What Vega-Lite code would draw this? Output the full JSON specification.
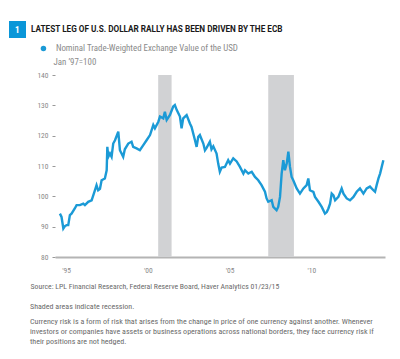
{
  "$schema": "https://vega.github.io/schema/vega-lite/v6.json",
  "width": 330,
  "height": 182,
  "autosize": {"type": "none"},
  "padding": {"left": 55, "top": 75, "right": 15, "bottom": 102},
  "background": "white",
  "config": {
    "view": {"stroke": null},
    "font": "Roboto Condensed, Liberation Sans Narrow, DejaVu Sans Condensed, Roboto"
  },
  "title": {
    "text": "Shaded areas indicate recession.",
    "subtitle": [
      "Currency risk is a form of risk that arises from the change in price of one currency against another. Whenever",
      "investors or companies have assets or business operations across national borders, they face currency risk if",
      "their positions are not hedged."
    ],
    "orient": "bottom",
    "anchor": "start",
    "frame": "group",
    "dx": -25,
    "offset": 13,
    "fontSize": 8,
    "fontWeight": "normal",
    "color": "#6a6a6a",
    "subtitleFontSize": 8,
    "subtitleColor": "#6a6a6a",
    "subtitleLineHeight": 10,
    "subtitlePadding": 7
  },
  "layer": [
    {
      "data": {"values": [
        {"start": 2001.18, "end": 2002.0},
        {"start": 2007.91, "end": 2009.48}
      ]},
      "mark": {"type": "rect", "color": "#d1d2d4"},
      "encoding": {
        "x": {"field": "start", "type": "quantitative"},
        "x2": {"field": "end"}
      }
    },
    {
      "data": {"values": [{"badge": "1"}]},
      "mark": {"type": "point", "opacity": 0, "filled": true, "color": "#0a96d8", "strokeWidth": 0},
      "encoding": {
        "shape": {
          "field": "badge",
          "type": "nominal",
          "scale": {"range": ["square"]},
          "legend": {
            "orient": "none",
            "legendX": -46,
            "legendY": -54,
            "padding": 0,
            "symbolSize": 289,
            "symbolFillColor": "#0a96d8",
            "symbolStrokeWidth": 0,
            "symbolOpacity": 1,
            "labelColor": "white",
            "labelFontWeight": "bold",
            "labelFontSize": 9,
            "labelOffset": -11,
            "title": "LATEST LEG OF U.S. DOLLAR RALLY HAS BEEN DRIVEN BY THE ECB",
            "titleOrient": "right",
            "titleAngle": 0,
            "titlePadding": 5,
            "titleLimit": 400,
            "titleFont": "Roboto",
            "titleFontSize": 8.2,
            "titleFontWeight": "bold",
            "titleColor": "#1a1a1a",
            "titleBaseline": "middle",
            "titleAnchor": "middle",
            "encode": {
              "symbols": {"update": {
                "opacity": {"value": 1},
                "fill": {"value": "#0a96d8"},
                "fillOpacity": {"value": 1},
                "strokeWidth": {"value": 0}
              }}
            }
          }
        }
      }
    },
    {
      "data": {"values": [
        {"t": 1995.17, "v": 94.3}, {"t": 1995.27, "v": 93.2}, {"t": 1995.38, "v": 89.4}, {"t": 1995.48, "v": 90.2},
        {"t": 1995.58, "v": 90.5}, {"t": 1995.68, "v": 90.5}, {"t": 1995.78, "v": 93.8}, {"t": 1995.88, "v": 94.3},
        {"t": 1996.08, "v": 96.0}, {"t": 1996.19, "v": 97.1}, {"t": 1996.39, "v": 97.1}, {"t": 1996.6, "v": 97.6},
        {"t": 1996.7, "v": 97.1}, {"t": 1996.9, "v": 98.2}, {"t": 1997.11, "v": 98.7}, {"t": 1997.31, "v": 102.0},
        {"t": 1997.41, "v": 103.7}, {"t": 1997.51, "v": 102.0}, {"t": 1997.62, "v": 102.5}, {"t": 1997.72, "v": 105.3},
        {"t": 1997.92, "v": 105.9}, {"t": 1998.03, "v": 108.6}, {"t": 1998.07, "v": 116.3}, {"t": 1998.13, "v": 113.0},
        {"t": 1998.23, "v": 114.1}, {"t": 1998.33, "v": 113.0}, {"t": 1998.43, "v": 117.4}, {"t": 1998.54, "v": 118.5},
        {"t": 1998.74, "v": 121.3}, {"t": 1998.84, "v": 115.2}, {"t": 1998.94, "v": 114.1}, {"t": 1999.04, "v": 113.0},
        {"t": 1999.14, "v": 115.5}, {"t": 1999.35, "v": 117.4}, {"t": 1999.55, "v": 118.0}, {"t": 1999.65, "v": 116.3},
        {"t": 1999.86, "v": 115.8}, {"t": 2000.06, "v": 115.2}, {"t": 2000.27, "v": 116.9}, {"t": 2000.47, "v": 118.5},
        {"t": 2000.68, "v": 120.2}, {"t": 2000.88, "v": 123.5}, {"t": 2000.98, "v": 122.4}, {"t": 2001.19, "v": 124.6},
        {"t": 2001.29, "v": 126.3}, {"t": 2001.49, "v": 125.7}, {"t": 2001.59, "v": 127.9}, {"t": 2001.7, "v": 125.2},
        {"t": 2001.9, "v": 126.8}, {"t": 2002.1, "v": 129.6}, {"t": 2002.2, "v": 130.1}, {"t": 2002.31, "v": 128.5},
        {"t": 2002.51, "v": 126.3}, {"t": 2002.61, "v": 122.4}, {"t": 2002.71, "v": 125.7}, {"t": 2002.92, "v": 126.8},
        {"t": 2003.12, "v": 124.0}, {"t": 2003.22, "v": 122.9}, {"t": 2003.43, "v": 118.5}, {"t": 2003.53, "v": 116.3},
        {"t": 2003.63, "v": 119.6}, {"t": 2003.73, "v": 120.2}, {"t": 2003.94, "v": 117.4}, {"t": 2004.04, "v": 115.2},
        {"t": 2004.14, "v": 116.0}, {"t": 2004.34, "v": 118.0}, {"t": 2004.44, "v": 115.5}, {"t": 2004.55, "v": 116.5},
        {"t": 2004.75, "v": 114.1}, {"t": 2004.85, "v": 110.8}, {"t": 2004.95, "v": 108.1}, {"t": 2005.06, "v": 109.5},
        {"t": 2005.26, "v": 109.7}, {"t": 2005.46, "v": 111.9}, {"t": 2005.57, "v": 110.8}, {"t": 2005.77, "v": 112.5},
        {"t": 2005.98, "v": 111.5}, {"t": 2006.18, "v": 109.7}, {"t": 2006.39, "v": 107.5}, {"t": 2006.49, "v": 108.6},
        {"t": 2006.69, "v": 107.5}, {"t": 2006.9, "v": 108.1}, {"t": 2007.1, "v": 106.4}, {"t": 2007.3, "v": 105.3},
        {"t": 2007.5, "v": 103.7}, {"t": 2007.71, "v": 101.5}, {"t": 2007.81, "v": 99.3}, {"t": 2007.91, "v": 98.2},
        {"t": 2008.12, "v": 98.7}, {"t": 2008.22, "v": 96.5}, {"t": 2008.42, "v": 95.4}, {"t": 2008.52, "v": 96.5},
        {"t": 2008.63, "v": 99.8}, {"t": 2008.73, "v": 107.5}, {"t": 2008.83, "v": 111.9}, {"t": 2008.93, "v": 108.6},
        {"t": 2009.04, "v": 110.8}, {"t": 2009.14, "v": 114.7}, {"t": 2009.24, "v": 109.7}, {"t": 2009.34, "v": 106.4},
        {"t": 2009.44, "v": 105.3}, {"t": 2009.65, "v": 102.6}, {"t": 2009.85, "v": 100.9}, {"t": 2010.06, "v": 102.6},
        {"t": 2010.26, "v": 103.7}, {"t": 2010.36, "v": 105.9}, {"t": 2010.46, "v": 102.0}, {"t": 2010.67, "v": 101.5},
        {"t": 2010.77, "v": 99.8}, {"t": 2010.98, "v": 98.2}, {"t": 2011.18, "v": 96.5}, {"t": 2011.38, "v": 94.3},
        {"t": 2011.49, "v": 94.8}, {"t": 2011.59, "v": 96.0}, {"t": 2011.69, "v": 97.6}, {"t": 2011.79, "v": 100.9},
        {"t": 2011.9, "v": 100.3}, {"t": 2012.0, "v": 98.7}, {"t": 2012.2, "v": 99.8}, {"t": 2012.4, "v": 102.6},
        {"t": 2012.51, "v": 100.9}, {"t": 2012.71, "v": 99.3}, {"t": 2012.91, "v": 98.7}, {"t": 2013.12, "v": 99.8},
        {"t": 2013.32, "v": 101.5}, {"t": 2013.52, "v": 102.6}, {"t": 2013.73, "v": 100.9}, {"t": 2013.93, "v": 102.6},
        {"t": 2014.13, "v": 103.2}, {"t": 2014.34, "v": 102.0}, {"t": 2014.44, "v": 101.5}, {"t": 2014.54, "v": 103.7},
        {"t": 2014.65, "v": 105.9}, {"t": 2014.75, "v": 107.5}, {"t": 2014.85, "v": 109.7}, {"t": 2014.95, "v": 111.9}
      ]},
      "transform": [{"calculate": "'Nominal Trade-Weighted Exchange Value of the USD'", "as": "series"}],
      "mark": {"type": "line", "strokeWidth": 2.4},
      "encoding": {
        "x": {
          "field": "t",
          "type": "quantitative",
          "scale": {"domain": [1994.87, 2015.05], "nice": false, "zero": false},
          "axis": {
            "values": [1995, 2000, 2005, 2010],
            "labelExpr": "'\\'' + substring(toString(datum.value), 2, 4)",
            "grid": false,
            "ticks": false,
            "domainColor": "#b4b4b4",
            "domainWidth": 2,
            "labelColor": "#888888",
            "labelFontSize": 7.5,
            "labelPadding": 9,
            "labelOffset": 9,
            "title": "Source: LPL Financial Research, Federal Reserve Board, Haver Analytics 01/23/15",
            "titleX": -25,
            "titleY": 29,
            "titleAlign": "left",
            "titleBaseline": "middle",
            "titleAnchor": null,
            "titleFontSize": 7.75,
            "titleFontWeight": "normal",
            "titleColor": "#6a6a6a"
          }
        },
        "y": {
          "field": "v",
          "type": "quantitative",
          "scale": {"domain": [80, 140], "nice": false, "zero": false},
          "axis": {
            "values": [80, 90, 100, 110, 120, 130, 140],
            "grid": false,
            "domain": false,
            "tickSize": 3,
            "tickColor": "#999999",
            "labelColor": "#888888",
            "labelFontSize": 7.5,
            "labelPadding": 4,
            "title": "Jan \u201997=100",
            "titleAngle": 0,
            "titleX": -2,
            "titleY": -14,
            "titleAlign": "left",
            "titleBaseline": "middle",
            "titleFontSize": 8.9,
            "titleFontWeight": "normal",
            "titleColor": "#8a8a8a"
          }
        },
        "color": {
          "field": "series",
          "type": "nominal",
          "scale": {"range": ["#1b9ad6"]},
          "legend": {
            "orient": "none",
            "legendX": -16,
            "legendY": -31,
            "padding": 0,
            "title": null,
            "symbolType": "circle",
            "symbolSize": 30,
            "symbolFillColor": "#1b9ad6",
            "symbolStrokeWidth": 0,
            "labelOffset": 8,
            "labelFontSize": 8.9,
            "labelColor": "#8a8a8a",
            "labelLimit": 300
          }
        }
      }
    }
  ]
}
